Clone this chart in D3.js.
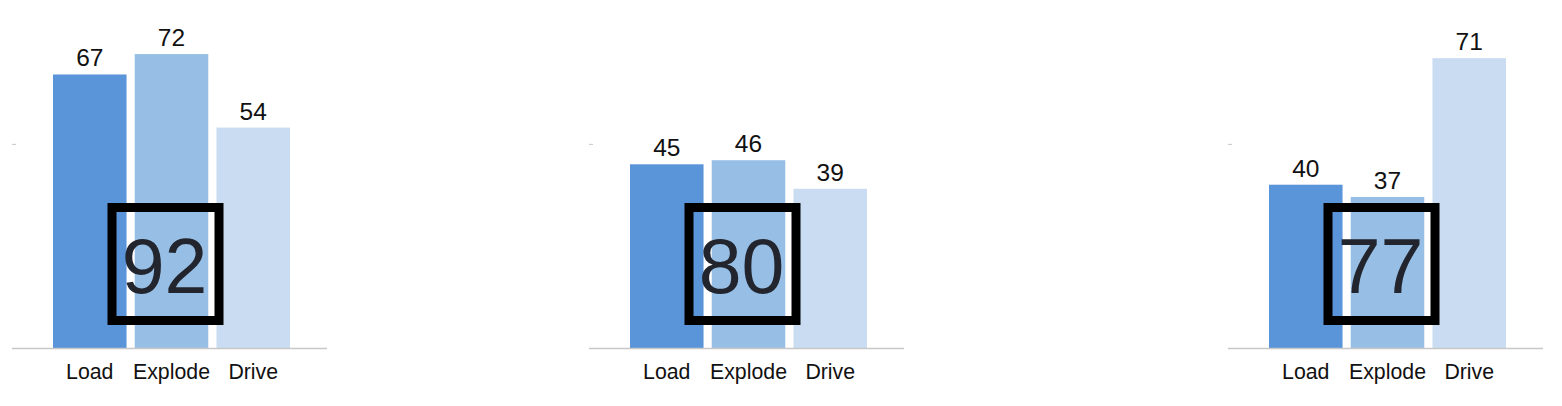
<!DOCTYPE html>
<html><head><meta charset="utf-8">
<script src="https://cdn.jsdelivr.net/npm/d3@7"></script>
<style>html,body{margin:0;padding:0;background:#fff;}svg{display:block;}</style>
</head><body>
<svg id="chart" width="1562" height="406"></svg>
<script>
const categories = ["Load", "Explode", "Drive"];
const panel1Values = [67, 72, 54];
const panel2Values = [45, 46, 39];
const panel3Values = [40, 37, 71];
const scores = [92, 80, 77];
const yTicks = [50];
const colors = ["#5b95d9", "#97bfe6", "#c9dcf1"];

const panels = [panel1Values, panel2Values, panel3Values];
const panelX = [12, 589, 1228];
const panelW = 315;
const baseY = 348;

const svg = d3.select("#chart");
const y = d3.scaleLinear().domain([0, 85]).range([baseY, 1]);

panels.forEach((vals, i) => {
  const x0 = panelX[i];
  const g = svg.append("g");
  const x = d3.scaleBand().domain(categories).range([x0 + 41, x0 + 278]).paddingInner(0.1).paddingOuter(0);

  // y tick
  const yAxis = g.append("g").attr("transform", `translate(${x0},0)`)
    .call(d3.axisRight(y).tickValues(yTicks).tickSize(4).tickFormat(""));
  yAxis.select(".domain").remove();
  yAxis.selectAll("line").attr("stroke", "#c8c8c8");

  // bars
  g.selectAll("rect.bar").data(vals).enter().append("rect")
    .attr("class", "bar")
    .attr("x", (d, j) => x(categories[j]))
    .attr("y", d => y(d))
    .attr("width", x.bandwidth())
    .attr("height", d => baseY - y(d))
    .attr("fill", (d, j) => colors[j]);

  // value labels
  g.selectAll("text.val").data(vals).enter().append("text")
    .attr("class", "val")
    .attr("x", (d, j) => x(categories[j]) + x.bandwidth() / 2)
    .attr("y", d => y(d) - 8)
    .attr("text-anchor", "middle")
    .attr("font-family", "Liberation Sans, Arial, sans-serif")
    .attr("font-size", 24.5)
    .attr("fill", "#111")
    .text(d => d);

  // x axis
  const xAxis = g.append("g").attr("transform", `translate(0,${baseY})`)
    .call(d3.axisBottom(x).tickSize(0));
  xAxis.select(".domain").attr("d", `M${x0},0.5H${x0 + panelW}`).attr("stroke", "#c8c8c8").attr("stroke-width", 1.5);
  xAxis.selectAll("text").attr("font-family", "Liberation Sans, Arial, sans-serif")
    .attr("font-size", 21.3).attr("fill", "#111").attr("dy", null).attr("y", 31);

  // score box
  const cx = x("Explode") + x.bandwidth() / 2 - 6;
  g.append("rect")
    .attr("x", cx - 53.5).attr("y", 207.5)
    .attr("width", 107).attr("height", 113)
    .attr("fill", "none").attr("stroke", "#000").attr("stroke-width", 9);
  g.append("text")
    .attr("x", cx - 1).attr("y", 293)
    .attr("text-anchor", "middle")
    .attr("font-family", "Liberation Sans, Arial, sans-serif")
    .attr("font-size", 77)
    .attr("fill", "#22252d")
    .text(scores[i]);
});
</script>
</body></html>
